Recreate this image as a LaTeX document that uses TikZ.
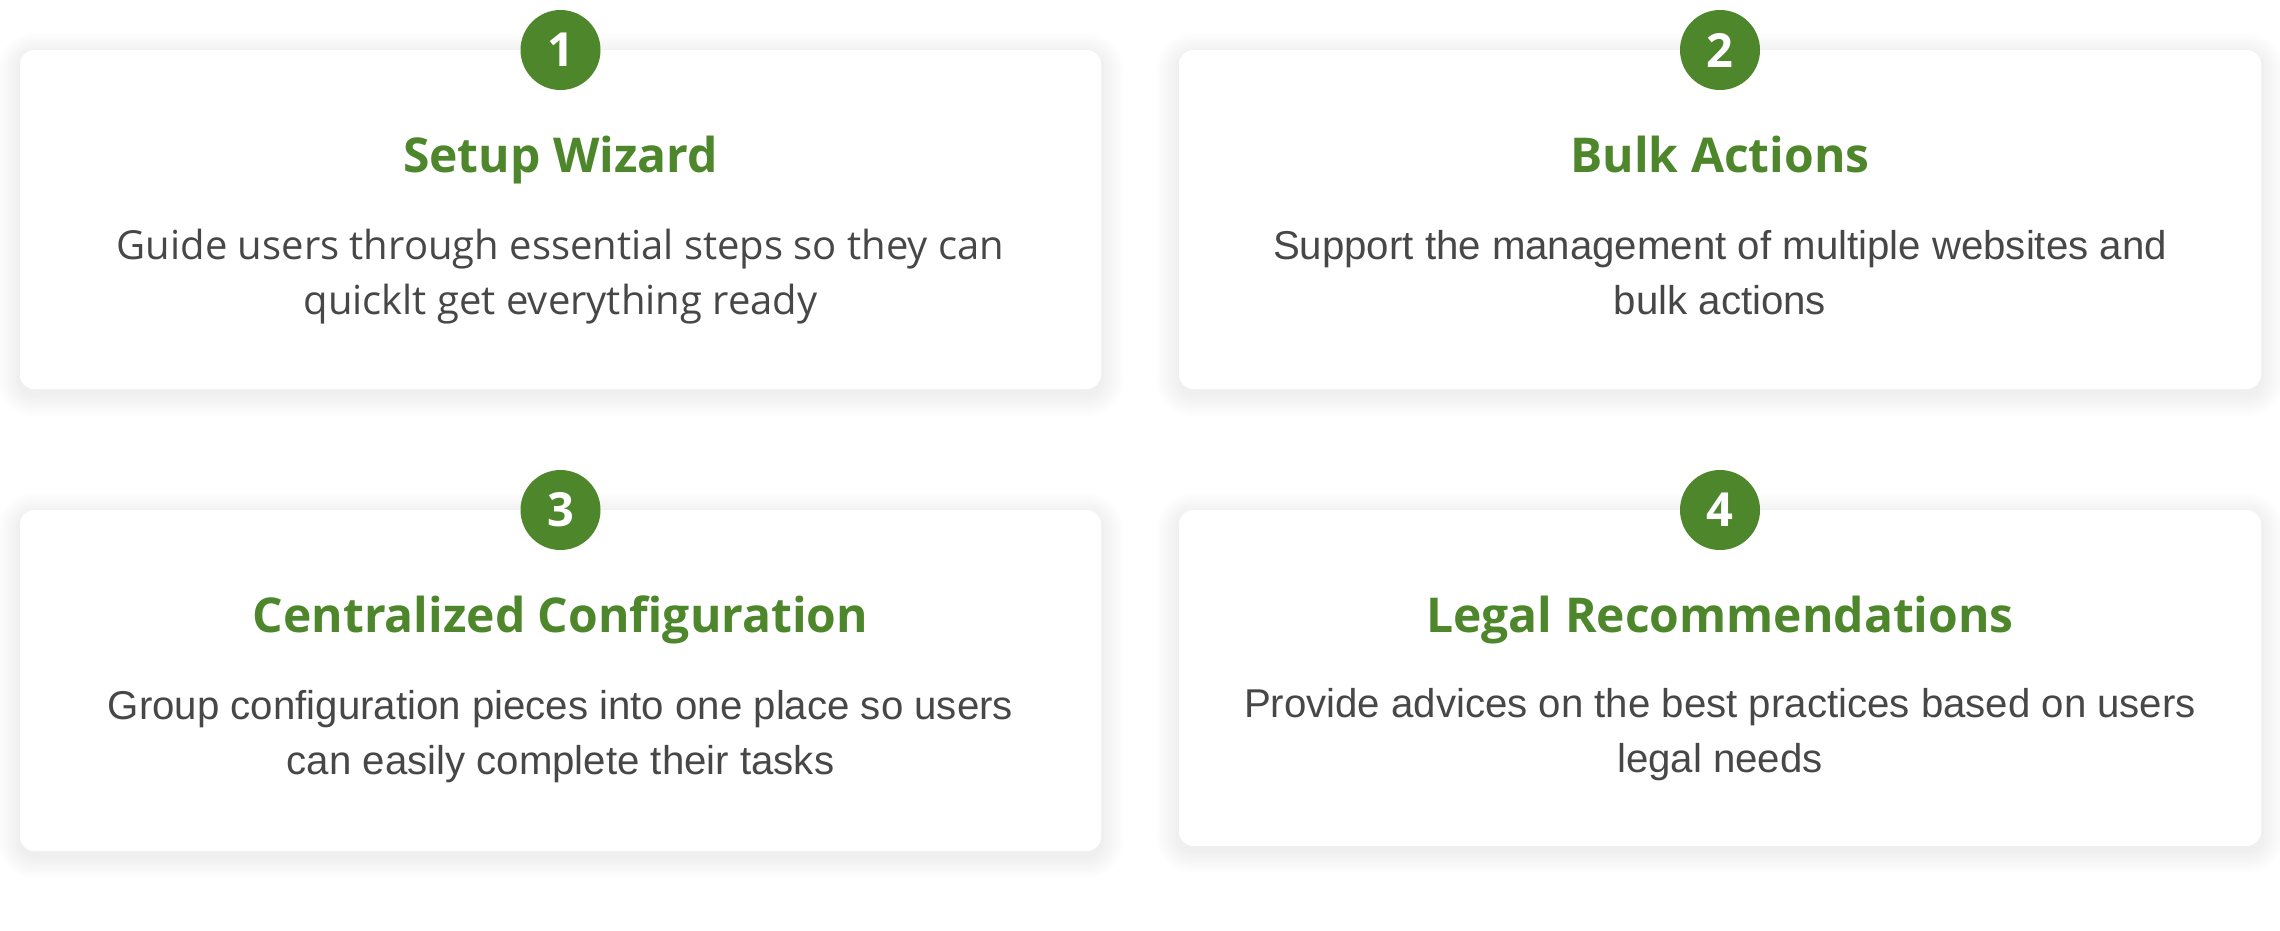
\documentclass[tikz,border=0pt]{standalone}
\usepackage{fontspec}
\newfontfamily\osans{Open Sans}
\newfontfamily\rsans{Liberation Sans}
\definecolor{leaf}{HTML}{4E872B}
\definecolor{ink}{HTML}{474747}
\newcommand{\cardshade}[4]{%
  \foreach \k in {1,...,16}{%
    \fill[black, opacity=0.0055, rounded corners={14pt+1.4pt*\k}]
      ({#1-1.4*\k},{#2-1.4*\k+5}) rectangle ({#3+1.4*\k},{#4+1.4*\k+5});
  }%
}
\tikzset{
  card/.style={fill=white, rounded corners=14pt},
  badge/.style={circle, fill=leaf, minimum size=80pt, inner sep=0pt, text=white,
    font=\osans\bfseries\fontsize{47}{47}\selectfont},
  title/.style={anchor=base, text=leaf, inner sep=0pt,
    font=\osans\bfseries\fontsize{48}{48}\selectfont},
  bodyA/.style={anchor=base, text=ink, inner sep=0pt,
    font=\osans\fontsize{40}{40}\selectfont},
  bodyB/.style={anchor=base, text=ink, inner sep=0pt,
    font=\rsans\fontsize{40.2}{40.2}\selectfont}
}
\begin{document}
\begin{tikzpicture}[x=1pt,y=-1pt]
\useasboundingbox[fill=white] (0,0) rectangle (2280,930);
% shadows
\cardshade{20}{50}{1101}{389}
\cardshade{1179}{50}{2261}{389}
\cardshade{20}{510}{1101}{851}
\cardshade{1179}{510}{2261}{846}
% cards
\path[card] (20,50) rectangle (1101,389);
\path[card] (1179,50) rectangle (2261,389);
\path[card] (20,510) rectangle (1101,851);
\path[card] (1179,510) rectangle (2261,846);
% badges
\node[badge] (n1) at (560.5,50) {1};
\node[badge] (n2) at (1720,50) {2};
\node[badge] (n3) at (560.5,510) {3};
\node[badge] (n4) at (1720,510) {4};
% titles
\node[title] (t1) at (560.5,172) {Setup Wizard};
\node[title] (t2) at (1720,172) {Bulk Actions};
\node[title] (t3) at (560.5,632) {Centralized Configuration};
\node[title] (t4) at (1720,632) {Legal Recommendations};
% bodies
\node[bodyA] (b1a) at (560.5,259) {Guide users through essential steps so they can};
\node[bodyA] (b1b) at (560.5,314) {quicklt get everything ready};
\node[bodyB] (b2a) at (1720,259) {Support the management of multiple websites and};
\node[bodyB] (b2b) at (1720,314) {bulk actions};
\node[bodyB] (b3a) at (560.5,719) {Group configuration pieces into one place so users};
\node[bodyB] (b3b) at (560.5,774) {can easily complete their tasks};
\node[bodyB] (b4a) at (1720,717) {Provide advices on the best practices based on users};
\node[bodyB] (b4b) at (1720,772) {legal needs};
\end{tikzpicture}
\end{document}
